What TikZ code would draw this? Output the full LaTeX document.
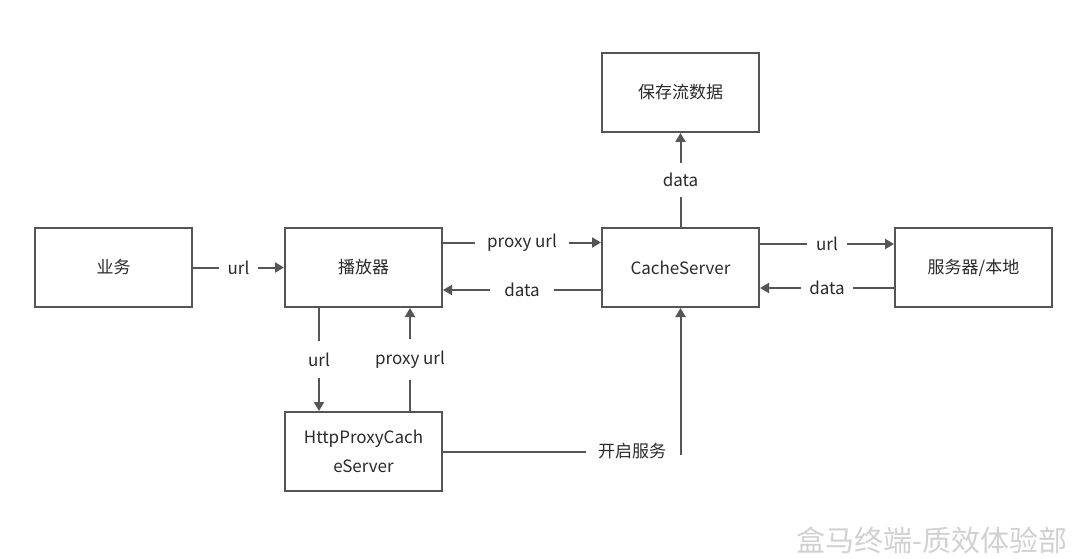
\documentclass[tikz,border=0pt]{standalone}
\usepackage{fontspec}
\setmainfont{Noto Sans CJK SC}
\usetikzlibrary{arrows.meta,calc}
\definecolor{ln}{HTML}{555555}
\definecolor{tx}{HTML}{2a2a2a}
\begin{document}
\begin{tikzpicture}[x=1pt,y=-1pt,
  box/.style={draw=ln,line width=2pt,minimum width=157pt,minimum height=79pt,inner sep=0pt,text=tx,font=\fontsize{17}{20}\selectfont,align=center},
  conn/.style={draw=ln,line width=2pt,-{Triangle[length=9pt,width=10pt]}},
  plain/.style={draw=ln,line width=2pt},
  lbl/.style={fill=white,text=tx,font=\fontsize{17}{20}\selectfont,inner xsep=9pt,inner ysep=2pt}]
\path[use as bounding box,fill=white] (0,0) rectangle (1080,559);
\node[box] (yewu) at (113.5,267.5) {业务};
\node[box] (player) at (363.5,267.5) {播放器};
\node[box] (cache) at (680.5,267.5) {CacheServer};
\node[box] (server) at (973.5,267.5) {服务器/本地};
\node[box] (save) at (680.5,92.5) {保存流数据};
\node[box] (http) at (363.5,451.5) {HttpProxyCach\\[9pt]eServer};
% arrows
\draw[conn] (yewu.east) -- node[lbl]{url} (player.west);
\draw[conn] ([yshift=25pt]player.east) -- node[lbl,inner xsep=12pt]{proxy url} ([yshift=25pt]cache.west);
\draw[conn] ([yshift=-22.5pt]cache.west) -- node[lbl,inner xsep=14pt]{data} ([yshift=-22.5pt]player.east);
\draw[conn] ([yshift=23.5pt]cache.east) -- node[lbl]{url} ([yshift=23.5pt]server.west);
\draw[conn] ([yshift=-20.5pt]server.west) -- node[lbl,inner xsep=8pt]{data} ([yshift=-20.5pt]cache.east);
\draw[conn] (cache.north) -- node[lbl,inner xsep=2pt,inner ysep=10pt]{data} (save.south);
\draw[conn] ([xshift=-44.5pt]player.south) -- node[lbl,inner xsep=2pt,inner ysep=12pt]{url} ([xshift=-44.5pt]http.north);
\draw[conn] ([xshift=46.5pt]http.north) -- node[lbl,inner xsep=2pt,inner ysep=12pt]{proxy url} ([xshift=46.5pt]player.south);
\node[text=tx,font=\fontsize{17}{20}\selectfont,inner xsep=12pt] (kq) at (632,451.5) {开启服务};
\draw[plain] (http.east) -- (kq.west);
\draw[conn] (cache.south |- 0,455) -- (cache.south);
\node[text=black!18,font=\fontsize{29}{32}\selectfont] (wm) at (932,540) {盒马终端-质效体验部};
\end{tikzpicture}
\end{document}
